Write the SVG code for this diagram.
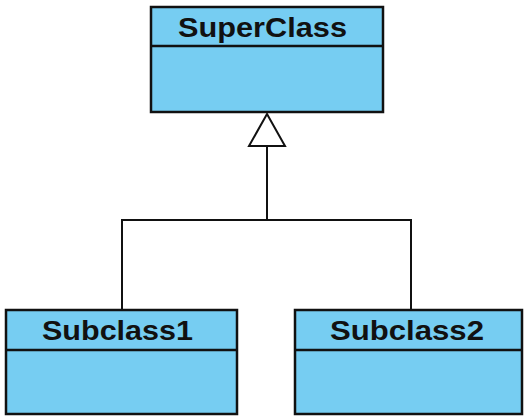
<svg xmlns="http://www.w3.org/2000/svg" width="526" height="419" viewBox="0 0 526 419">
  <defs>
    <style>
      .box { fill: #76CDF2; stroke: #111; stroke-width: 2.5; }
      .sep { stroke: #111; stroke-width: 2.5; }
      .name { font-family: "Liberation Sans", Arial, sans-serif; font-weight: bold; font-size: 28px; fill: #111; }
      .edge { fill: none; stroke: #111; stroke-width: 2; }
      .head { fill: #fff; stroke: #111; stroke-width: 2; stroke-linejoin: miter; }
    </style>
  </defs>
  <rect width="526" height="419" fill="#fff"/>

  <!-- generalization connectors -->
  <g id="connectors">
    <polyline class="edge" points="122,309 122,220 411,220 411,309"/>
    <line class="edge" x1="267" y1="220" x2="267" y2="146"/>
    <polygon class="head" points="267,114 285,146 249,146"/>
  </g>

  <g id="superclass">
    <rect class="box" x="151" y="7" width="232" height="105"/>
    <line class="sep" x1="151" y1="46" x2="383" y2="46"/>
    <text class="name" x="178" y="37" textLength="169" lengthAdjust="spacingAndGlyphs">SuperClass</text>
  </g>

  <g id="subclass1">
    <rect class="box" x="6" y="310" width="231" height="104"/>
    <line class="sep" x1="6" y1="350" x2="237" y2="350"/>
    <text class="name" x="42" y="340" textLength="151" lengthAdjust="spacingAndGlyphs">Subclass1</text>
  </g>

  <g id="subclass2">
    <rect class="box" x="295" y="310" width="227" height="104"/>
    <line class="sep" x1="295" y1="350" x2="522" y2="350"/>
    <text class="name" x="330" y="340" textLength="154" lengthAdjust="spacingAndGlyphs">Subclass2</text>
  </g>
</svg>
